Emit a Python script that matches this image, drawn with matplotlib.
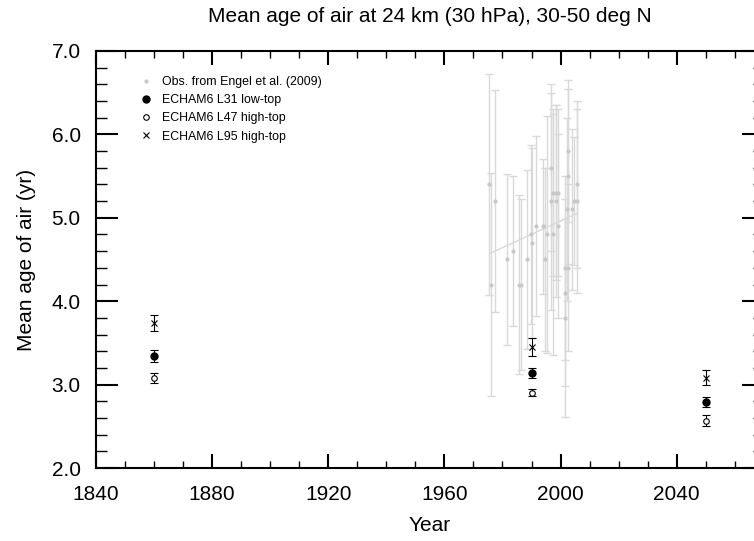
import numpy as np
import matplotlib
matplotlib.use("Agg")
import matplotlib.pyplot as plt
from matplotlib.ticker import MultipleLocator

plt.rcParams['font.family'] = ['Liberation Sans', 'DejaVu Sans']

obs_year = [1975.5, 1975.9, 1977.4, 1981.7, 1983.7, 1985.8, 1986.3, 1988.3,
            1989.7, 1990.3, 1991.5, 1993.8, 1994.6, 1995.4, 1996.6, 1996.6,
            1997.5, 1997.5, 1998.4, 1998.4, 1999.2, 1999.2, 2001.5, 2001.5,
            2001.5, 2002.1, 2002.7, 2002.7, 2002.7, 2003.8, 2004.6, 2005.6,
            2005.6]
obs_age = [5.40, 4.20, 5.20, 4.50, 4.60, 4.20, 4.20, 4.50,
           4.80, 4.70, 4.90, 4.90, 4.50, 4.80, 5.60, 5.20,
           5.30, 4.80, 5.20, 5.30, 5.30, 4.90, 4.40, 4.10,
           3.80, 5.10, 5.50, 5.80, 4.40, 5.10, 5.20, 5.40,
           5.20]
obs_err = [1.32, 1.34, 1.33, 1.03, 0.90, 1.07, 1.02, 1.07,
           1.07, 1.14, 1.08, 0.81, 1.10, 1.42, 1.00, 1.30,
           1.00, 1.45, 1.15, 1.05, 1.00, 1.10, 1.10, 1.12,
           1.19, 1.10, 1.05, 0.85, 1.00, 0.96, 0.77, 1.00,
           1.10]

# linear trend of the observations (end points)
trend_year = [1975.5, 2005.5]
trend_age = [4.57, 5.05]

# ECHAM6 model runs
model_year = [1860, 1990, 2050]
l31_age = [3.34, 3.135, 2.795]
l31_err = [0.075, 0.06, 0.06]
l47_age = [3.075, 2.905, 2.567]
l47_err = [0.06, 0.047, 0.067]
l95_age = [3.735, 3.45, 3.085]
l95_err = [0.095, 0.11, 0.09]

fig = plt.figure(figsize=(7.54, 5.41), dpi=100)
ax = fig.add_axes([96/754, 1-468/541, (763.8-96)/754, (468-51)/541])

obs_bar = '#d9d9d9'
obs_pt = '#c8c8c8'

ax.errorbar(obs_year, obs_age, yerr=obs_err, fmt='none', ecolor=obs_bar,
            elinewidth=1.0, capsize=2.9, capthick=1.0, zorder=1)
ax.plot(trend_year, trend_age, color=obs_bar, lw=1.0, zorder=1)
ax.plot(obs_year, obs_age, 'o', color=obs_pt, ms=3, mec='none', zorder=2,
        label='Obs. from Engel et al. (2009)')

for age, err in [(l31_age, l31_err), (l47_age, l47_err), (l95_age, l95_err)]:
    ax.errorbar(model_year, age, yerr=err, fmt='none', ecolor='black',
                elinewidth=0.8, capsize=2.9, capthick=0.8, zorder=3)
ax.plot(model_year, l31_age, 'o', color='black', ms=5, zorder=4,
        label='ECHAM6 L31 low-top')
ax.plot(model_year, l47_age, 'o', mfc='white', mec='black', mew=0.8, ms=4,
        zorder=4, label='ECHAM6 L47 high-top')
ax.plot(model_year, l95_age, 'x', color='black', mew=0.8, ms=4, zorder=4,
        label='ECHAM6 L95 high-top')

ax.set_xlim(1840, 2070)
ax.set_ylim(2.0, 7.0)
ax.xaxis.set_major_locator(MultipleLocator(40))
ax.xaxis.set_minor_locator(MultipleLocator(10))
ax.yaxis.set_major_locator(MultipleLocator(1.0))
ax.yaxis.set_minor_locator(MultipleLocator(0.2))
ax.yaxis.set_major_formatter(matplotlib.ticker.FormatStrFormatter('%.1f'))

for s in ax.spines.values():
    s.set_linewidth(1.5)
ax.tick_params(axis='both', which='both', direction='in', top=True, right=True,
               labelsize=15)
ax.tick_params(axis='x', which='major', length=10, width=1.5, pad=12)
ax.tick_params(axis='x', which='minor', length=5, width=1.0)
ax.tick_params(axis='y', which='major', length=16, width=1.5, pad=11)
ax.tick_params(axis='y', which='minor', length=8, width=1.0)

ax.set_xlabel('Year', fontsize=15)
ax.xaxis.set_label_coords(0.5, -0.115)
ax.set_ylabel('Mean age of air (yr)', fontsize=15)
ax.yaxis.set_label_coords(-0.09, 0.5)

fig.text(430/754, 1-16/541, 'Mean age of air at 24 km (30 hPa), 30-50 deg N',
         ha='center', va='center', fontsize=15)

ax.legend(loc='upper left', bbox_to_anchor=(0.066, 0.94), frameon=False,
          fontsize=8.9, handlelength=1.0, handletextpad=0.8, labelspacing=0.5,
          borderaxespad=0, borderpad=0)

fig.savefig('out.png', dpi=100)
